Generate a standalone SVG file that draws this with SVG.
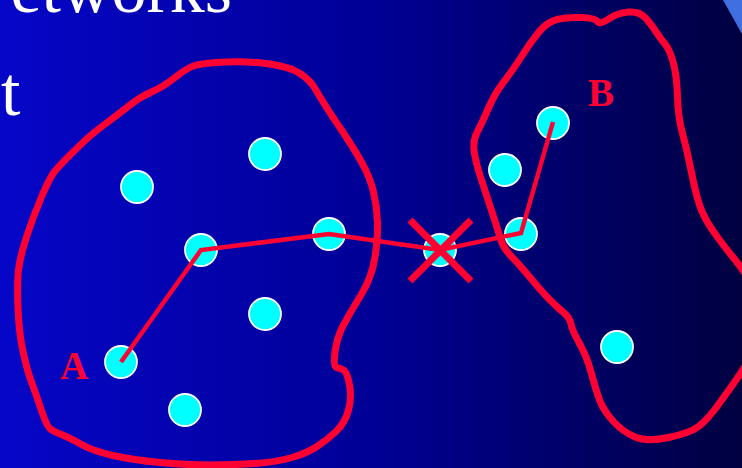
<svg xmlns="http://www.w3.org/2000/svg" width="742" height="468" viewBox="0 0 742 468">
<defs>
<linearGradient id="bg" x1="0" y1="0" x2="1" y2="0">
<stop offset="0" stop-color="#0606c8"/>
<stop offset="0.5" stop-color="#000096"/>
<stop offset="1" stop-color="#000040"/>
</linearGradient>
<style>
.blob{fill:none;stroke:#ff0033;stroke-width:7;stroke-linejoin:round;stroke-linecap:round}
.node{fill:#00ffff;stroke:#ffffff;stroke-width:1.8}
.link{fill:none;stroke:#ff0033;stroke-width:4.5;stroke-linejoin:miter}
.x{stroke:#ff0033;stroke-width:7}
.title{font-family:"Liberation Serif","Times New Roman",serif;fill:#ffffff;font-size:70px}
.lbl{font-family:"Liberation Serif","Times New Roman",serif;fill:#ff0033;font-size:39px;font-weight:bold}
</style>
</defs>
<rect width="742" height="468" fill="url(#bg)"/>
<polygon points="723,0 742,0 742,34" fill="#3f6fe0"/>
<text class="title" x="232" y="12" text-anchor="end">etworks</text>
<text class="title" x="1" y="115">t</text>
<g id="regionA">
<path class="blob" d="M55,171 Q60,165 68.5,156.5 Q77,148 85,140.5 Q93,133 106.5,123 Q120,113 130,105 Q140,97 151.5,92 Q163,87 175,77.5 Q187,68 195,65.5 Q203,63 226.5,62 Q250,61 270,64 Q290,67 300,73.5 Q310,80 315,88.5 Q320,97 325,105 Q330,113 341.5,130 Q353,147 361.5,162 Q370,177 373.5,192 Q377,207 377.5,222 Q378,237 375,257 Q372,277 361,295 Q350,313 343.5,325 Q337,337 335,352 Q333,367 336.5,367.5 Q340,368 343.5,370 Q347,372 349.5,384.5 Q352,397 348.5,410 Q345,423 336,431.5 Q327,440 317,446.5 Q307,453 292,457.5 Q277,462 255,463.5 Q233,465 210,465 Q187,465 160,462.5 Q133,460 113,455.5 Q93,451 81.5,444.5 Q70,438 62.5,435 Q55,432 51,429.5 Q47,427 42,412 Q37,397 32,383.5 Q27,370 23,351.5 Q19,333 18,308 Q17,283 18.5,270 Q20,257 26.5,237 Q33,217 41.5,197 Q50,177 55,171 Z"/>
</g>
<g id="regionB">
<path class="blob" d="M597.5,21.5 Q600,25 608.5,19 Q617,13 628.5,12 Q640,11 646.5,19 Q653,27 656.5,32.5 Q660,38 665,44 Q670,50 673.5,63.5 Q677,77 677.5,97 Q678,117 682.5,133.5 Q687,150 692,175 Q697,200 702,211.5 Q707,223 717,236.5 Q727,250 736,261 Q745,272 752.5,286 Q760,300 760,320 Q760,340 752.5,353.5 Q745,367 736,380 Q727,393 717,406.5 Q707,420 698.5,426.5 Q690,433 668.5,437.5 Q647,442 635,437 Q623,432 613,421 Q603,410 599,398.5 Q595,387 591,372 Q587,357 579.5,343.5 Q572,330 571,324 Q570,318 563.5,312.5 Q557,307 550,300 Q543,293 530.5,278 Q518,263 510.5,255.5 Q503,248 500,237.5 Q497,227 492,212 Q487,197 481,178.5 Q475,160 474,150 Q473,140 477.5,131.5 Q482,123 488.5,108 Q495,93 504,81.5 Q513,70 521.5,56.5 Q530,43 538.5,32.5 Q547,22 557,19.5 Q567,17 581,17.5 Q595,18 597.5,21.5 Z"/>
</g>
<g id="nodes">
<g id="n1"><circle class="node" cx="137" cy="187" r="16"/></g>
<g id="n2"><circle class="node" cx="265" cy="154" r="16"/></g>
<g id="n3"><circle class="node" cx="201" cy="250" r="16"/></g>
<g id="n4"><circle class="node" cx="329" cy="234" r="16"/></g>
<g id="n5"><circle class="node" cx="265" cy="314" r="16"/></g>
<g id="n6"><circle class="node" cx="121" cy="362" r="16"/></g>
<g id="n7"><circle class="node" cx="185" cy="410" r="16"/></g>
<g id="n8"><circle class="node" cx="440" cy="250" r="16"/></g>
<g id="n9"><circle class="node" cx="553" cy="123" r="16"/></g>
<g id="n10"><circle class="node" cx="505" cy="170" r="16"/></g>
<g id="n11"><circle class="node" cx="521" cy="234" r="16"/></g>
<g id="n12"><circle class="node" cx="617" cy="347" r="16"/></g>
</g>
<g id="connectors">
<polyline class="link" points="121,362 201,250 329,234 440,250 521,233 553,122"/>
<line class="x" x1="410" y1="220" x2="471" y2="281"/>
<line class="x" x1="471" y1="220" x2="410" y2="281"/>
</g>
<text class="lbl" x="60" y="379">A</text>
<text class="lbl" x="588" y="106">B</text>
</svg>
